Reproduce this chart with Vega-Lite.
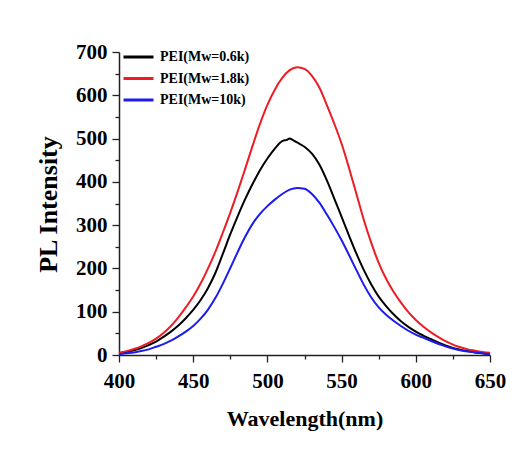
{
  "$schema": "https://vega.github.io/schema/vega-lite/v6.json",
  "autosize": "none",
  "width": 371,
  "height": 303,
  "padding": {"left": 119, "top": 52, "right": 34, "bottom": 99},
  "background": "white",
  "config": {
    "view": {"stroke": null},
    "font": "Liberation Serif",
    "axis": {
      "grid": false,
      "domainColor": "#222222",
      "domainWidth": 1.5,
      "tickColor": "#222222",
      "tickWidth": 1.3,
      "labelFont": "Liberation Serif",
      "labelFontWeight": "bold",
      "labelFontSize": 21,
      "labelColor": "black",
      "titleFont": "Liberation Serif",
      "titleFontWeight": "bold",
      "titleFontSize": 22,
      "titleColor": "black"
    }
  },
  "data": {
    "values": [
      {"wl": 400, "s": "PEI(Mw=0.6k)", "v": 4}, {"wl": 405, "s": "PEI(Mw=0.6k)", "v": 7}, {"wl": 410, "s": "PEI(Mw=0.6k)", "v": 11}, {"wl": 415, "s": "PEI(Mw=0.6k)", "v": 16}, {"wl": 420, "s": "PEI(Mw=0.6k)", "v": 23}, {"wl": 425, "s": "PEI(Mw=0.6k)", "v": 31}, {"wl": 430, "s": "PEI(Mw=0.6k)", "v": 42}, {"wl": 435, "s": "PEI(Mw=0.6k)", "v": 54}, {"wl": 440, "s": "PEI(Mw=0.6k)", "v": 68}, {"wl": 445, "s": "PEI(Mw=0.6k)", "v": 85}, {"wl": 450, "s": "PEI(Mw=0.6k)", "v": 104}, {"wl": 455, "s": "PEI(Mw=0.6k)", "v": 127}, {"wl": 460, "s": "PEI(Mw=0.6k)", "v": 155}, {"wl": 465, "s": "PEI(Mw=0.6k)", "v": 190}, {"wl": 470, "s": "PEI(Mw=0.6k)", "v": 234}, {"wl": 475, "s": "PEI(Mw=0.6k)", "v": 279}, {"wl": 480, "s": "PEI(Mw=0.6k)", "v": 321}, {"wl": 485, "s": "PEI(Mw=0.6k)", "v": 360}, {"wl": 490, "s": "PEI(Mw=0.6k)", "v": 395}, {"wl": 495, "s": "PEI(Mw=0.6k)", "v": 427}, {"wl": 500, "s": "PEI(Mw=0.6k)", "v": 454}, {"wl": 505, "s": "PEI(Mw=0.6k)", "v": 477}, {"wl": 510, "s": "PEI(Mw=0.6k)", "v": 494}, {"wl": 513, "s": "PEI(Mw=0.6k)", "v": 497}, {"wl": 515, "s": "PEI(Mw=0.6k)", "v": 500}, {"wl": 517, "s": "PEI(Mw=0.6k)", "v": 497}, {"wl": 520, "s": "PEI(Mw=0.6k)", "v": 491}, {"wl": 525, "s": "PEI(Mw=0.6k)", "v": 481}, {"wl": 530, "s": "PEI(Mw=0.6k)", "v": 465}, {"wl": 535, "s": "PEI(Mw=0.6k)", "v": 440}, {"wl": 540, "s": "PEI(Mw=0.6k)", "v": 404}, {"wl": 545, "s": "PEI(Mw=0.6k)", "v": 362}, {"wl": 550, "s": "PEI(Mw=0.6k)", "v": 319}, {"wl": 555, "s": "PEI(Mw=0.6k)", "v": 276}, {"wl": 560, "s": "PEI(Mw=0.6k)", "v": 234}, {"wl": 565, "s": "PEI(Mw=0.6k)", "v": 196}, {"wl": 570, "s": "PEI(Mw=0.6k)", "v": 163}, {"wl": 575, "s": "PEI(Mw=0.6k)", "v": 135}, {"wl": 580, "s": "PEI(Mw=0.6k)", "v": 113}, {"wl": 585, "s": "PEI(Mw=0.6k)", "v": 94}, {"wl": 590, "s": "PEI(Mw=0.6k)", "v": 78}, {"wl": 595, "s": "PEI(Mw=0.6k)", "v": 65}, {"wl": 600, "s": "PEI(Mw=0.6k)", "v": 54}, {"wl": 605, "s": "PEI(Mw=0.6k)", "v": 45}, {"wl": 610, "s": "PEI(Mw=0.6k)", "v": 37}, {"wl": 615, "s": "PEI(Mw=0.6k)", "v": 29}, {"wl": 620, "s": "PEI(Mw=0.6k)", "v": 22}, {"wl": 625, "s": "PEI(Mw=0.6k)", "v": 16}, {"wl": 630, "s": "PEI(Mw=0.6k)", "v": 12}, {"wl": 635, "s": "PEI(Mw=0.6k)", "v": 9}, {"wl": 640, "s": "PEI(Mw=0.6k)", "v": 6}, {"wl": 645, "s": "PEI(Mw=0.6k)", "v": 4}, {"wl": 650, "s": "PEI(Mw=0.6k)", "v": 2},
      {"wl": 400, "s": "PEI(Mw=1.8k)", "v": 5}, {"wl": 405, "s": "PEI(Mw=1.8k)", "v": 9}, {"wl": 410, "s": "PEI(Mw=1.8k)", "v": 14}, {"wl": 415, "s": "PEI(Mw=1.8k)", "v": 20}, {"wl": 420, "s": "PEI(Mw=1.8k)", "v": 28}, {"wl": 425, "s": "PEI(Mw=1.8k)", "v": 38}, {"wl": 430, "s": "PEI(Mw=1.8k)", "v": 51}, {"wl": 435, "s": "PEI(Mw=1.8k)", "v": 67}, {"wl": 440, "s": "PEI(Mw=1.8k)", "v": 87}, {"wl": 445, "s": "PEI(Mw=1.8k)", "v": 110}, {"wl": 450, "s": "PEI(Mw=1.8k)", "v": 135}, {"wl": 455, "s": "PEI(Mw=1.8k)", "v": 165}, {"wl": 460, "s": "PEI(Mw=1.8k)", "v": 200}, {"wl": 465, "s": "PEI(Mw=1.8k)", "v": 239}, {"wl": 470, "s": "PEI(Mw=1.8k)", "v": 283}, {"wl": 475, "s": "PEI(Mw=1.8k)", "v": 329}, {"wl": 480, "s": "PEI(Mw=1.8k)", "v": 378}, {"wl": 485, "s": "PEI(Mw=1.8k)", "v": 430}, {"wl": 490, "s": "PEI(Mw=1.8k)", "v": 483}, {"wl": 495, "s": "PEI(Mw=1.8k)", "v": 534}, {"wl": 500, "s": "PEI(Mw=1.8k)", "v": 578}, {"wl": 505, "s": "PEI(Mw=1.8k)", "v": 613}, {"wl": 510, "s": "PEI(Mw=1.8k)", "v": 640}, {"wl": 515, "s": "PEI(Mw=1.8k)", "v": 658}, {"wl": 520, "s": "PEI(Mw=1.8k)", "v": 665}, {"wl": 525, "s": "PEI(Mw=1.8k)", "v": 661}, {"wl": 530, "s": "PEI(Mw=1.8k)", "v": 645}, {"wl": 535, "s": "PEI(Mw=1.8k)", "v": 618}, {"wl": 540, "s": "PEI(Mw=1.8k)", "v": 578}, {"wl": 545, "s": "PEI(Mw=1.8k)", "v": 535}, {"wl": 550, "s": "PEI(Mw=1.8k)", "v": 488}, {"wl": 555, "s": "PEI(Mw=1.8k)", "v": 432}, {"wl": 560, "s": "PEI(Mw=1.8k)", "v": 372}, {"wl": 565, "s": "PEI(Mw=1.8k)", "v": 312}, {"wl": 570, "s": "PEI(Mw=1.8k)", "v": 259}, {"wl": 575, "s": "PEI(Mw=1.8k)", "v": 213}, {"wl": 580, "s": "PEI(Mw=1.8k)", "v": 176}, {"wl": 585, "s": "PEI(Mw=1.8k)", "v": 146}, {"wl": 590, "s": "PEI(Mw=1.8k)", "v": 121}, {"wl": 595, "s": "PEI(Mw=1.8k)", "v": 99}, {"wl": 600, "s": "PEI(Mw=1.8k)", "v": 81}, {"wl": 605, "s": "PEI(Mw=1.8k)", "v": 66}, {"wl": 610, "s": "PEI(Mw=1.8k)", "v": 53}, {"wl": 615, "s": "PEI(Mw=1.8k)", "v": 42}, {"wl": 620, "s": "PEI(Mw=1.8k)", "v": 32}, {"wl": 625, "s": "PEI(Mw=1.8k)", "v": 24}, {"wl": 630, "s": "PEI(Mw=1.8k)", "v": 18}, {"wl": 635, "s": "PEI(Mw=1.8k)", "v": 13}, {"wl": 640, "s": "PEI(Mw=1.8k)", "v": 10}, {"wl": 645, "s": "PEI(Mw=1.8k)", "v": 7}, {"wl": 650, "s": "PEI(Mw=1.8k)", "v": 5},
      {"wl": 400, "s": "PEI(Mw=10k)", "v": 2}, {"wl": 405, "s": "PEI(Mw=10k)", "v": 4}, {"wl": 410, "s": "PEI(Mw=10k)", "v": 6}, {"wl": 415, "s": "PEI(Mw=10k)", "v": 9}, {"wl": 420, "s": "PEI(Mw=10k)", "v": 13}, {"wl": 425, "s": "PEI(Mw=10k)", "v": 19}, {"wl": 430, "s": "PEI(Mw=10k)", "v": 25}, {"wl": 435, "s": "PEI(Mw=10k)", "v": 33}, {"wl": 440, "s": "PEI(Mw=10k)", "v": 43}, {"wl": 445, "s": "PEI(Mw=10k)", "v": 54}, {"wl": 450, "s": "PEI(Mw=10k)", "v": 67}, {"wl": 455, "s": "PEI(Mw=10k)", "v": 84}, {"wl": 460, "s": "PEI(Mw=10k)", "v": 105}, {"wl": 465, "s": "PEI(Mw=10k)", "v": 132}, {"wl": 470, "s": "PEI(Mw=10k)", "v": 165}, {"wl": 475, "s": "PEI(Mw=10k)", "v": 201}, {"wl": 480, "s": "PEI(Mw=10k)", "v": 238}, {"wl": 485, "s": "PEI(Mw=10k)", "v": 273}, {"wl": 490, "s": "PEI(Mw=10k)", "v": 303}, {"wl": 495, "s": "PEI(Mw=10k)", "v": 326}, {"wl": 500, "s": "PEI(Mw=10k)", "v": 344}, {"wl": 505, "s": "PEI(Mw=10k)", "v": 359}, {"wl": 510, "s": "PEI(Mw=10k)", "v": 372}, {"wl": 515, "s": "PEI(Mw=10k)", "v": 382}, {"wl": 520, "s": "PEI(Mw=10k)", "v": 386}, {"wl": 525, "s": "PEI(Mw=10k)", "v": 384}, {"wl": 530, "s": "PEI(Mw=10k)", "v": 372}, {"wl": 535, "s": "PEI(Mw=10k)", "v": 352}, {"wl": 540, "s": "PEI(Mw=10k)", "v": 325}, {"wl": 545, "s": "PEI(Mw=10k)", "v": 296}, {"wl": 550, "s": "PEI(Mw=10k)", "v": 265}, {"wl": 555, "s": "PEI(Mw=10k)", "v": 231}, {"wl": 560, "s": "PEI(Mw=10k)", "v": 196}, {"wl": 565, "s": "PEI(Mw=10k)", "v": 162}, {"wl": 570, "s": "PEI(Mw=10k)", "v": 133}, {"wl": 575, "s": "PEI(Mw=10k)", "v": 110}, {"wl": 580, "s": "PEI(Mw=10k)", "v": 93}, {"wl": 585, "s": "PEI(Mw=10k)", "v": 79}, {"wl": 590, "s": "PEI(Mw=10k)", "v": 67}, {"wl": 595, "s": "PEI(Mw=10k)", "v": 56}, {"wl": 600, "s": "PEI(Mw=10k)", "v": 47}, {"wl": 605, "s": "PEI(Mw=10k)", "v": 40}, {"wl": 610, "s": "PEI(Mw=10k)", "v": 33}, {"wl": 615, "s": "PEI(Mw=10k)", "v": 26}, {"wl": 620, "s": "PEI(Mw=10k)", "v": 20}, {"wl": 625, "s": "PEI(Mw=10k)", "v": 15}, {"wl": 630, "s": "PEI(Mw=10k)", "v": 11}, {"wl": 635, "s": "PEI(Mw=10k)", "v": 8}, {"wl": 640, "s": "PEI(Mw=10k)", "v": 6}, {"wl": 645, "s": "PEI(Mw=10k)", "v": 4}, {"wl": 650, "s": "PEI(Mw=10k)", "v": 2}
    ]
  },
  "mark": {"type": "line", "strokeWidth": 2, "interpolate": "monotone"},
  "encoding": {
    "x": {
      "field": "wl", "type": "quantitative",
      "scale": {"domain": [400, 650], "nice": false, "zero": false},
      "axis": {
        "title": "Wavelength(nm)",
        "values": [400, 425, 450, 475, 500, 525, 550, 575, 600, 625, 650],
        "labelExpr": "datum.value % 50 === 0 ? datum.label : ''",
        "tickSize": {"condition": {"test": "datum.value % 50 === 0", "value": 7}, "value": 4},
        "labelPadding": 8,
        "labelFlush": false,
        "titleY": 63,
        "titleBaseline": "middle"
      }
    },
    "y": {
      "field": "v", "type": "quantitative",
      "scale": {"domain": [0, 700], "nice": false},
      "axis": {
        "title": "PL Intensity",
        "titleFontSize": 26,
        "values": [0, 50, 100, 150, 200, 250, 300, 350, 400, 450, 500, 550, 600, 650, 700],
        "labelExpr": "datum.value % 100 === 0 ? datum.label : ''",
        "tickSize": {"condition": {"test": "datum.value % 100 === 0", "value": 7}, "value": 4},
        "labelPadding": 5,
        "labelFlush": false,
        "titleX": -71,
        "titleY": 152,
        "titleAngle": 270,
        "titleAlign": "center",
        "titleBaseline": "middle"
      }
    },
    "color": {
      "field": "s", "type": "nominal",
      "scale": {"domain": ["PEI(Mw=0.6k)", "PEI(Mw=1.8k)", "PEI(Mw=10k)"], "range": ["#000000", "#ee1c24", "#1c1cf0"]},
      "legend": {
        "title": null,
        "orient": "none",
        "legendX": 3,
        "legendY": -5,
        "symbolType": "stroke",
        "symbolSize": 900,
        "symbolStrokeWidth": 3,
        "clipHeight": 20,
        "labelFont": "Liberation Serif",
        "labelFontWeight": "bold",
        "labelFontSize": 14,
        "labelColor": "black",
        "labelOffset": 5,
        "rowPadding": 1.5,
        "padding": 0
      }
    }
  }
}
